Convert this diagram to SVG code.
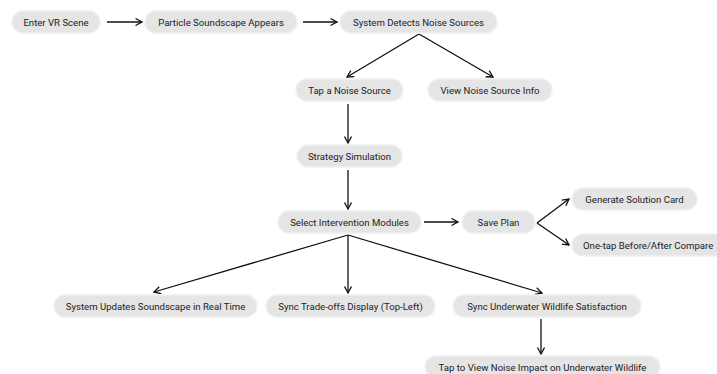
<svg xmlns="http://www.w3.org/2000/svg" width="717" height="374" viewBox="0 0 717 374">
<style>
.bg{fill:#ffffff}
.pill{fill:#e5e5e5;stroke:#f0f0f0;stroke-width:1.5}
.lbl{font-family:Roboto,"Liberation Sans",sans-serif;font-size:9.6px;fill:#222;text-anchor:middle;dominant-baseline:central}
.lbs{font-family:Roboto,"Liberation Sans",sans-serif;font-size:9.6px;fill:#222;text-anchor:start;dominant-baseline:central}
.edge{fill:none;stroke:#111;stroke-width:1.3;marker-end:url(#arr)}
</style>
<defs>
<marker id="arr" markerUnits="userSpaceOnUse" markerWidth="10" markerHeight="10" refX="7" refY="4" orient="auto">
<path d="M0.5,0.5 L7,4 L0.5,7.5" fill="none" stroke="#111" stroke-width="1.3"/>
</marker>
</defs>
<rect class="bg" x="0" y="0" width="717" height="374"/>
<g id="connectors">
<line class="edge" x1="107" y1="22" x2="142" y2="22"/>
<line class="edge" x1="303" y1="22" x2="337" y2="22"/>
<line class="edge" x1="419" y1="34" x2="347" y2="77"/>
<line class="edge" x1="419" y1="34" x2="493" y2="77"/>
<line class="edge" x1="348" y1="104" x2="348" y2="143"/>
<line class="edge" x1="348" y1="170" x2="348" y2="209"/>
<line class="edge" x1="424" y1="222" x2="458" y2="222"/>
<line class="edge" x1="537" y1="223" x2="569" y2="199"/>
<line class="edge" x1="537" y1="223" x2="569" y2="245"/>
<line class="edge" x1="348" y1="235" x2="154" y2="292"/>
<line class="edge" x1="348" y1="235" x2="348" y2="293"/>
<line class="edge" x1="348" y1="235" x2="542" y2="293"/>
<line class="edge" x1="541" y1="319" x2="541" y2="354"/>
</g>
<g id="enter"><rect class="pill" x="12" y="11" width="88" height="22" rx="11"/><text class="lbl" x="56" y="22">Enter VR Scene</text></g>
<g id="particle"><rect class="pill" x="145" y="11" width="152" height="22" rx="11"/><text class="lbl" x="221" y="22">Particle Soundscape Appears</text></g>
<g id="detects"><rect class="pill" x="340" y="11" width="157" height="22" rx="11"/><text class="lbl" x="418.5" y="22">System Detects Noise Sources</text></g>
<g id="tap"><rect class="pill" x="296" y="79" width="107" height="22" rx="11"/><text class="lbl" x="349.5" y="90">Tap a Noise Source</text></g>
<g id="view"><rect class="pill" x="428" y="79" width="124" height="22" rx="11"/><text class="lbl" x="490" y="90">View Noise Source Info</text></g>
<g id="strategy"><rect class="pill" x="297" y="145" width="105" height="22" rx="11"/><text class="lbl" x="349.5" y="156">Strategy Simulation</text></g>
<g id="select"><rect class="pill" x="278" y="211" width="143" height="22" rx="11"/><text class="lbl" x="349.5" y="222">Select Intervention Modules</text></g>
<g id="save"><rect class="pill" x="462" y="211" width="73" height="22" rx="11"/><text class="lbl" x="498.5" y="222">Save Plan</text></g>
<g id="generate"><rect class="pill" x="572" y="188" width="125" height="22" rx="11"/><text class="lbl" x="634.5" y="199">Generate Solution Card</text></g>
<g id="onetap"><rect class="pill" x="572" y="234" width="168" height="22" rx="11"/><text class="lbs" x="583" y="245">One-tap Before/After Compare</text></g>
<g id="updates"><rect class="pill" x="54" y="295" width="203" height="22" rx="11"/><text class="lbl" x="155.5" y="306">System Updates Soundscape in Real Time</text></g>
<g id="tradeoffs"><rect class="pill" x="266" y="295" width="169" height="22" rx="11"/><text class="lbl" x="350.5" y="306">Sync Trade-offs Display (Top-Left)</text></g>
<g id="underwater"><rect class="pill" x="453" y="295" width="188" height="22" rx="11"/><text class="lbl" x="547" y="306">Sync Underwater Wildlife Satisfaction</text></g>
<g id="tapview"><rect class="pill" x="425" y="356" width="235" height="22" rx="11"/><text class="lbl" x="542.5" y="367">Tap to View Noise Impact on Underwater Wildlife</text></g>
</svg>
